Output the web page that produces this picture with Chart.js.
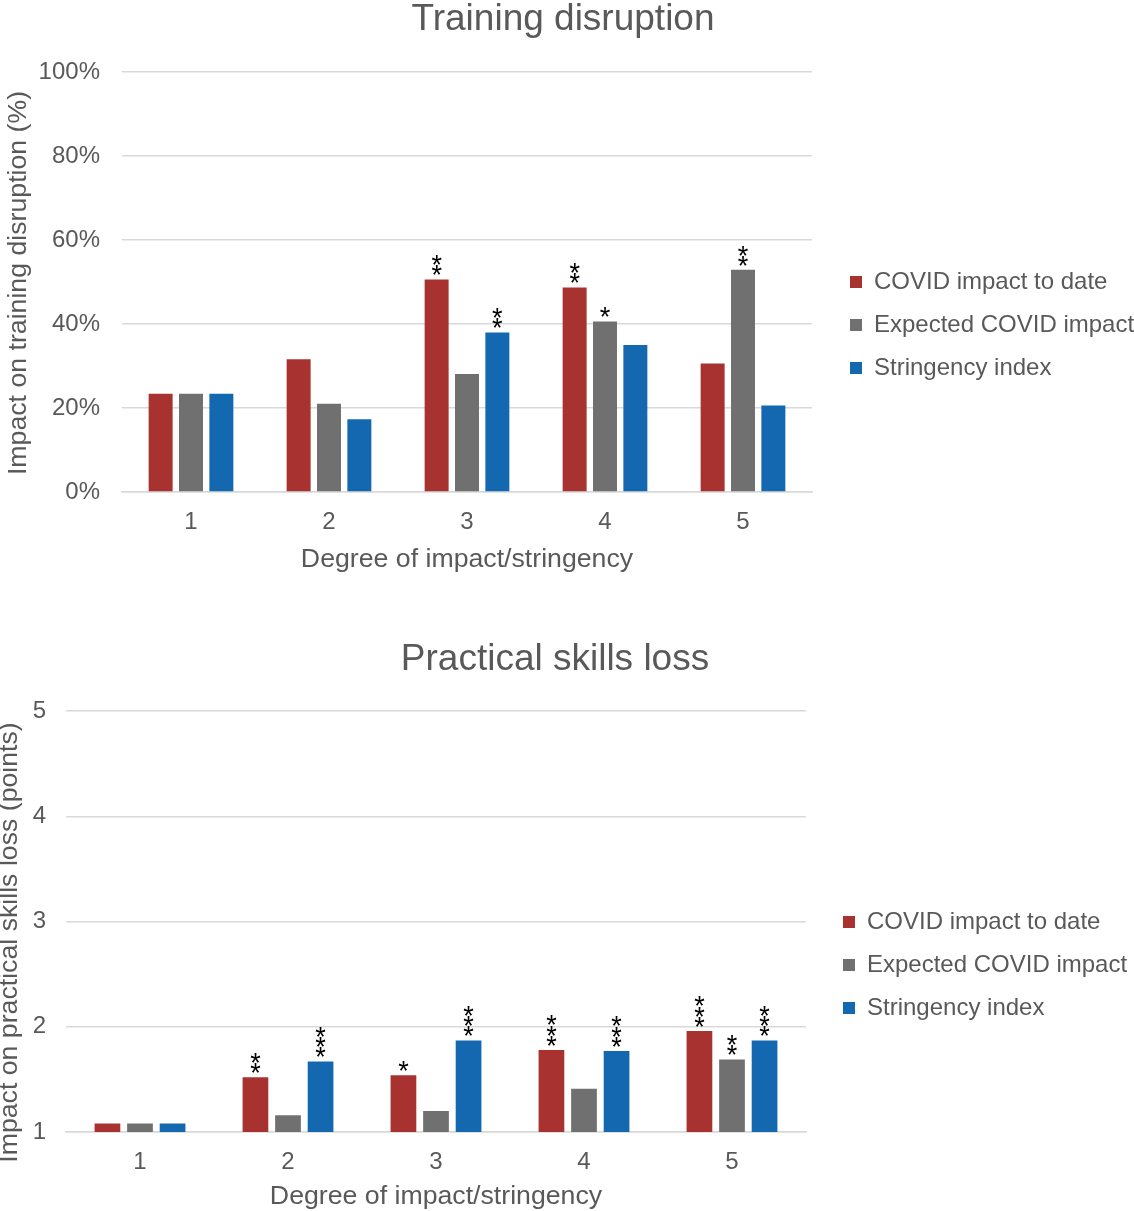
<!DOCTYPE html>
<html>
<head>
<meta charset="utf-8">
<script src="https://cdn.jsdelivr.net/npm/chart.js@4.4.1/dist/chart.umd.min.js"></script>
<style>
  html, body { margin: 0; padding: 0; background: #ffffff; }
  #wrap { position: relative; width: 1134px; height: 1211px; overflow: hidden; }
  canvas { position: absolute; left: 0; display: block; }
  #training { top: 0; }
  #skills { top: 600px; }
</style>
</head>
<body>
<div id="wrap">
  <canvas id="training" width="1134" height="600"></canvas>
  <canvas id="skills" width="1134" height="611"></canvas>
</div>
<script>
// Categories (degree of impact / stringency) and series names
const categories = ['1', '2', '3', '4', '5'];
const seriesNames = ['COVID impact to date', 'Expected COVID impact', 'Stringency index'];
const seriesColors = ['#A83230', '#707070', '#1468B0'];

// Training disruption (% of respondents)
const trainingToDate     = [23.4, 31.6, 50.6, 48.7, 30.6];
const trainingExpected   = [23.4, 21.0, 28.1, 40.6, 52.9];
const trainingStringency = [23.4, 17.3, 38.0, 35.0, 20.6];
const trainingToDateSig     = ['', '', '**', '**', ''];
const trainingExpectedSig   = ['', '', '', '*', '**'];
const trainingStringencySig = ['', '', '**', '', ''];
const trainingTicks = [0, 20, 40, 60, 80, 100];

// Practical skills loss (points)
const skillsToDate     = [1.08, 1.52, 1.54, 1.78, 1.96];
const skillsExpected   = [1.08, 1.16, 1.20, 1.41, 1.69];
const skillsStringency = [1.08, 1.67, 1.87, 1.77, 1.87];
const skillsToDateSig     = ['', '**', '*', '***', '***'];
const skillsExpectedSig   = ['', '', '', '', '**'];
const skillsStringencySig = ['', '***', '***', '***', '***'];
const skillsTicks = [1, 2, 3, 4, 5];

const FONT = "'Liberation Sans', Arial, Helvetica, sans-serif";
const TEXT = '#595959';
const GRID = '#D9D9D9';
Chart.defaults.font.family = FONT;
Chart.defaults.color = TEXT;

// Significance asterisks stacked above each bar
const significancePlugin = {
  id: 'significance',
  afterDatasetsDraw(chart, args, opts) {
    const ctx = chart.ctx;
    ctx.save();
    ctx.font = opts.font;
    ctx.fillStyle = opts.color;
    ctx.textAlign = 'center';
    ctx.textBaseline = 'alphabetic';
    const m = ctx.measureText('*');
    const glyphMid = (m.actualBoundingBoxAscent - m.actualBoundingBoxDescent) / 2;
    chart.data.datasets.forEach((ds, i) => {
      const marks = ds.significance || [];
      chart.getDatasetMeta(i).data.forEach((bar, j) => {
        const n = (marks[j] || '').length;
        for (let k = 0; k < n; k++) {
          const cy = bar.y - opts.gap - k * opts.step;
          ctx.fillText('*', bar.x, cy + glyphMid);
        }
      });
    });
    ctx.restore();
  }
};

// Fixes the legend column beside the plot and nudges the title blocks
const placement = {
  id: 'placement',
  beforeLayout(chart, args, opts) {
    const legend = chart.legend;
    if (legend && !legend.$fixedWidth) {
      const fit = legend.fit;
      legend.fit = function () { fit.call(this); this.width = opts.legendWidth; };
      legend.$fixedWidth = true;
    }
  },
  afterLayout(chart, args, opts) {
    const legend = chart.legend;
    if (legend) {
      const w = legend.width, h = legend.height;
      legend.left = opts.legendLeft; legend.right = opts.legendLeft + w;
      legend.top = opts.legendTop; legend.bottom = opts.legendTop + h;
    }
    const title = chart.titleBlock;
    if (title) {
      title.left += opts.titleDx; title.right += opts.titleDx;
      title.top += opts.titleDy; title.bottom += opts.titleDy;
    }
    const y = chart.scales.y;
    if (y && !y.$shiftedTitle) {
      const drawTitle = y.drawTitle;
      y.drawTitle = function () {
        this.ctx.save();
        this.ctx.translate(0, opts.yTitleDy);
        drawTitle.call(this);
        this.ctx.restore();
      };
      y.$shiftedTitle = true;
    }
  }
};

function makeDatasets(values, marks) {
  return values.map((data, i) => ({
    label: seriesNames[i],
    data: data,
    significance: marks[i],
    backgroundColor: seriesColors[i],
    borderWidth: 0,
    categoryPercentage: 0.66,
    barPercentage: 0.79
  }));
}

function makeChart(canvas, cfg) {
  return new Chart(canvas, {
    type: 'bar',
    data: { labels: categories, datasets: makeDatasets(cfg.values, cfg.marks) },
    plugins: [significancePlugin, placement],
    options: {
      responsive: false,
      animation: false,
      layout: { padding: 0 },
      plugins: {
        title: {
          display: true,
          text: cfg.title,
          color: TEXT,
          font: { size: 37, weight: 'normal', lineHeight: 1 },
          padding: cfg.titlePadding
        },
        legend: {
          position: 'right',
          align: 'start',
          labels: {
            color: TEXT,
            font: { size: 24 },
            boxWidth: 12,
            boxHeight: 12,
            padding: 19
          }
        },
        tooltip: { enabled: false },
        significance: { font: '27px ' + FONT, color: '#000000', gap: 9, step: 10.3 },
        placement: cfg.placement
      },
      scales: {
        x: {
          grid: { display: false, drawTicks: false },
          border: { display: true, color: GRID, width: 1.5 },
          ticks: { color: TEXT, font: { size: 24 }, padding: 16 },
          title: {
            display: true,
            text: 'Degree of impact/stringency',
            color: TEXT,
            font: { size: 26.7 },
            padding: { top: 0, bottom: cfg.xTitleBottom }
          },
          afterFit: s => { s.height = cfg.xHeight; }
        },
        y: {
          min: cfg.yTicks[0],
          max: cfg.yTicks[cfg.yTicks.length - 1],
          afterBuildTicks: s => { s.ticks = cfg.yTicks.map(v => ({ value: v })); },
          grid: { color: GRID, lineWidth: 1.5, drawTicks: false },
          border: { display: false },
          ticks: { color: TEXT, font: { size: 24 }, padding: cfg.yTickPad, callback: cfg.yFormat },
          title: {
            display: true,
            text: cfg.yTitle,
            color: TEXT,
            font: { size: 26.7 },
            padding: { top: cfg.yTitleTop, bottom: 0 }
          },
          afterFit: s => { s.width = cfg.yWidth; }
        }
      }
    }
  });
}

makeChart(document.getElementById('training'), {
  title: 'Training disruption',
  titlePadding: { top: 0, bottom: 35 },
  values: [trainingToDate, trainingExpected, trainingStringency],
  marks: [trainingToDateSig, trainingExpectedSig, trainingStringencySig],
  yTicks: trainingTicks,
  yFormat: v => v + '%',
  yTitle: 'Impact on training disruption (%)',
  yTitleTop: 3,
  yTickPad: 22,
  yWidth: 122,
  xHeight: 108,
  xTitleBottom: 24,
  placement: { legendWidth: 322, legendLeft: 831, legendTop: 251, titleDx: -4, titleDy: 1, yTitleDy: 1 }
});

makeChart(document.getElementById('skills'), {
  title: 'Practical skills loss',
  titlePadding: { top: 38.5, bottom: 35.5 },
  values: [skillsToDate, skillsExpected, skillsStringency],
  marks: [skillsToDateSig, skillsExpectedSig, skillsStringencySig],
  yTicks: skillsTicks,
  yFormat: v => String(v),
  yTitle: 'Impact on practical skills loss (points)',
  yTitleTop: -6.6,
  yTickPad: 20,
  yWidth: 66,
  xHeight: 79,
  xTitleBottom: -2,
  placement: { legendWidth: 328, legendLeft: 824, legendTop: 291, titleDx: -12, titleDy: 3, yTitleDy: 21 }
});
</script>
</body>
</html>
